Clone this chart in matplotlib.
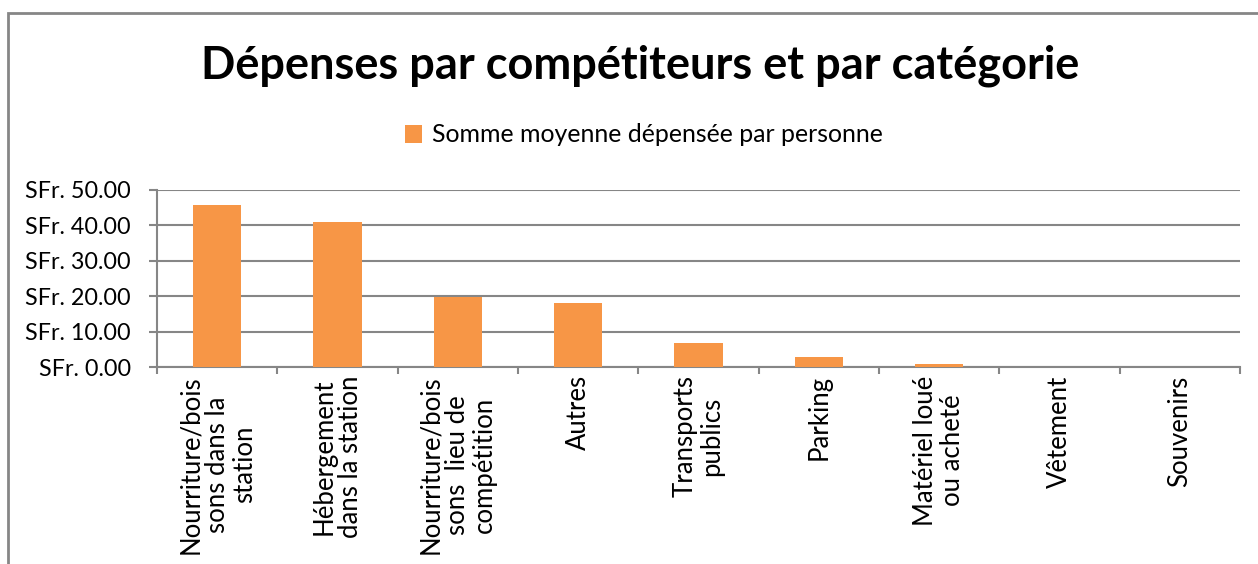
import numpy as np
import matplotlib
matplotlib.use("Agg")
import matplotlib.pyplot as plt
from matplotlib.patches import Rectangle
from matplotlib.ticker import FuncFormatter

# données du graphique
categories = [
    "Nourriture/bois\nsons dans la\nstation",
    "Hébergement\ndans la station",
    "Nourriture/bois\nsons  lieu de\ncompétition",
    "Autres",
    "Transports\npublics",
    "Parking",
    "Matériel loué\nou acheté",
    "Vêtement",
    "Souvenirs",
]
montants = [45.9, 41.1, 19.9, 18.2, 6.9, 2.7, 0.75, 0.0, 0.0]
serie = "Somme moyenne dépensée par personne"
titre = "Dépenses par compétiteurs et par catégorie"

orange = "#F79646"
gris = "#868686"

plt.rcParams['font.family'] = ['Lato', 'DejaVu Sans']

fig = plt.figure(figsize=(12.58, 5.64), dpi=100)
ax = fig.add_axes([157 / 1258, 1 - 367 / 564, (1240 - 157) / 1258, (367 - 190) / 564])

x = np.arange(len(categories))
ax.bar(x, montants, width=0.4, color=orange, label=serie, zorder=3)

ax.set_xlim(-0.5, len(categories) - 0.5)
ax.set_ylim(0, 50)
ax.set_yticks(np.arange(0, 51, 10))
ax.yaxis.set_major_formatter(FuncFormatter(lambda v, p: f"SFr. {v:.2f}"))
ax.grid(axis='y', color=gris, linewidth=1.5, zorder=0)

ax.set_xticks(x)
ax.set_xticklabels(categories, rotation=90, ha='center', va='top',
                   multialignment='center', fontsize=18.5, linespacing=1.1)
ax.set_xticks(np.arange(-0.5, len(categories)), minor=True)
ax.tick_params(axis='x', which='major', length=0, pad=6)
ax.tick_params(axis='x', which='minor', length=5, width=1.5, color=gris)
ax.tick_params(axis='y', length=5.8, width=1.5, color=gris, labelsize=16.8, pad=13)

for s in ['top', 'right']:
    ax.spines[s].set_visible(False)
for s in ['left', 'bottom']:
    ax.spines[s].set_color(gris)
    ax.spines[s].set_linewidth(1.5)

fig.text(640 / 1258, 1 - 66 / 564, titre, ha='center', va='center',
         fontsize=32.5, fontweight='bold')

fig.legend(loc='center', bbox_to_anchor=(644 / 1258, 1 - 135 / 564),
           frameon=False, fontsize=17.9, handlelength=0.7, handleheight=0.7,
           handletextpad=0.4)

# cadre extérieur du graphique
fig.add_artist(Rectangle((8 / 1258, -0.1), 1.2, 1 - 13 / 564 + 0.1,
                         transform=fig.transFigure, fill=False,
                         edgecolor=gris, linewidth=2))

fig.savefig("out.png", dpi=100)
